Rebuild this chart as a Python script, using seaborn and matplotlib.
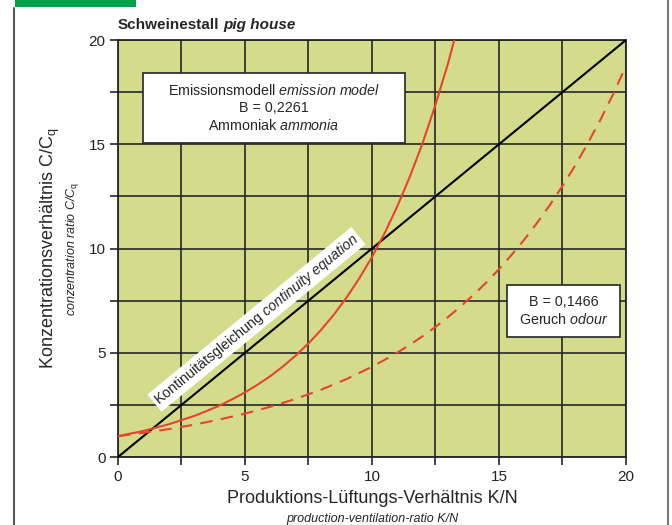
import numpy as np
import pandas as pd
import matplotlib.pyplot as plt
import matplotlib.patches as mpatches
from matplotlib.lines import Line2D
import seaborn as sns

# values
kn_ammonia = [0, 1, 2, 3, 3.5, 4, 4.5, 5, 5.5, 6, 6.5, 7, 7.5, 8, 8.5, 9, 9.5, 10, 10.5, 11,
              11.5, 12, 12.5, 13, 13.5]
c_ammonia = [1.0, 1.25, 1.57, 1.97, 2.21, 2.47, 2.77, 3.1, 3.47, 3.88, 4.35, 4.87, 5.45, 6.1,
             6.83, 7.65, 8.57, 9.59, 10.74, 12.03, 13.47, 15.08, 16.9, 18.9, 21.2]
kn_odour = [0, 1, 2, 3, 4, 5, 6, 7, 8, 8.5, 9, 9.5, 10, 10.5, 11, 11.5, 12, 12.5, 13, 13.5, 14,
            14.5, 15, 15.5, 16, 16.5, 17, 17.5, 18, 18.5, 19, 19.5, 20]
c_odour = [1.0, 1.16, 1.34, 1.55, 1.8, 2.08, 2.41, 2.79, 3.23, 3.48, 3.74, 4.03, 4.33, 4.66,
           5.01, 5.39, 5.8, 6.24, 6.72, 7.23, 7.78, 8.37, 9.01, 9.7, 10.43, 11.23, 12.08, 13.0,
           13.98, 15.05, 16.19, 17.42, 18.75]
kn_cont = [0, 20]
c_cont = [0, 20]

sns.set_style("ticks")
plt.rcParams['font.family'] = ['Liberation Sans', 'DejaVu Sans']
plt.rcParams['mathtext.fontset'] = 'custom'
plt.rcParams['mathtext.rm'] = 'Liberation Sans'
plt.rcParams['mathtext.it'] = 'Liberation Sans:italic'

red = '#e5462b'
dark = '#262626'

fig = plt.figure(figsize=(6.72, 5.25), dpi=100)
ax = fig.add_axes([0.1756, 0.1295, 0.7559, 0.7943])
ax.set_facecolor('#d4dc8c')

sns.lineplot(x=kn_cont, y=c_cont, ax=ax, color='black', lw=1.5, zorder=3)
sns.lineplot(x=kn_ammonia, y=c_ammonia, ax=ax, color=red, lw=1.5, zorder=3)
sns.lineplot(x=kn_odour, y=c_odour, ax=ax, color=red, lw=1.5, zorder=3)
ax.lines[-1].set_dashes([6, 4])

ax.set_xlim(0, 20)
ax.set_ylim(0, 20)
ax.set_xticks([0, 5, 10, 15, 20])
ax.set_yticks([0, 5, 10, 15, 20])
ax.set_xticks(np.arange(0, 20.1, 2.5), minor=True)
ax.set_yticks(np.arange(0, 20.1, 2.5), minor=True)
ax.grid(True, which='both', color=dark, lw=1.2, zorder=1)
ax.set_axisbelow(True)
ax.tick_params(which='both', direction='out', length=6, width=1.2, color=dark,
               labelsize=11, labelcolor='#222222', pad=3)
for s in ax.spines.values():
    s.set_color(dark)
    s.set_linewidth(1.3)

ax.set_xlabel('')
ax.set_ylabel('')
fig.text(0.5536, 0.050, 'Produktions-Lüftungs-Verhältnis K/N', ha='center', va='center', fontsize=13)
fig.text(0.5536, 0.012, 'production-ventilation-ratio K/N', ha='center', va='center',
         fontsize=9, style='italic')
fig.text(0.075, 0.5267, r'Konzentrationsverhältnis C/C$_\mathrm{q}$', ha='center', va='center',
         fontsize=13, rotation=90)
fig.text(0.108, 0.5267, r'conzentration ratio C/C$_\mathrm{q}$', ha='center', va='center',
         fontsize=9, style='italic', rotation=90)

t1 = ax.text(0.0, 1.035, 'Schweinestall', transform=ax.transAxes, fontsize=11, fontweight='bold',
             ha='left', va='center')
ax.annotate('pig house', xy=(1, 0.5), xycoords=t1, xytext=(3, 0), textcoords='offset points',
            fontsize=11, fontweight='bold', style='italic', ha='left', va='center')

# text boxes
ax.add_patch(mpatches.Rectangle((0.98, 15.05), 10.32, 3.35, fc='white', ec=dark, lw=1.2, zorder=4))
ax.text(6.14, 16.73, 'Emissionsmodell $\\it{emission\\ model}$\nB = 0,2261\nAmmoniak $\\it{ammonia}$',
        ha='center', va='center', fontsize=10.3, linespacing=1.25, zorder=5)
ax.add_patch(mpatches.Rectangle((15.31, 5.76), 4.45, 2.49, fc='white', ec=dark, lw=1.2, zorder=4))
ax.text(17.54, 7.0, 'B = 0,1466\nGeruch $\\it{odour}$', ha='center', va='center', fontsize=10.3,
        linespacing=1.25, zorder=5)
ax.text(5.45, 6.6, 'Kontinuitätsgleichung $\\it{continuity\\ equation}$', rotation=39.4,
        rotation_mode='anchor', ha='center', va='center', fontsize=10.3, zorder=5,
        bbox=dict(boxstyle='square,pad=0.15', fc='white', ec='none'))

fig.add_artist(mpatches.Rectangle((0.0223, 0.9867), 0.18, 0.0133, transform=fig.transFigure,
                                  color='#00a14b', lw=0))
fig.add_artist(Line2D([0.021, 0.021], [0, 0.985], transform=fig.transFigure, color='#555555', lw=1.5))
fig.add_artist(Line2D([0.994, 0.994], [0, 1], transform=fig.transFigure, color='#777777', lw=1.5))

fig.savefig('out.png', dpi=100)
